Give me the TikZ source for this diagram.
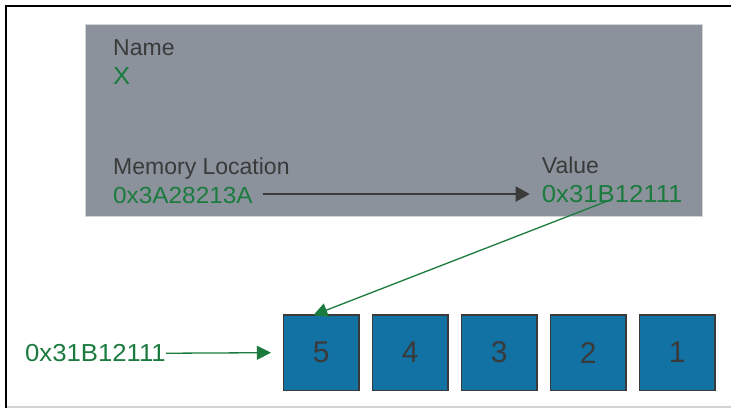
\documentclass[tikz,border=0pt]{standalone}
\usepackage{fontspec}
\setmainfont{Liberation Sans}
\newfontfamily\codefont[FakeStretch=1.045]{Liberation Sans}
\usetikzlibrary{arrows.meta}
\definecolor{panelgray}{HTML}{8B929C}
\definecolor{codegreen}{HTML}{1B7B3E}
\definecolor{cellblue}{HTML}{1172A3}
\definecolor{darktext}{HTML}{3A3A3A}
\definecolor{framegray}{HTML}{D4D4D4}
\tikzset{
  lbl/.style={inner sep=0pt, anchor=base west, font=\fontsize{23}{26}\selectfont, text=darktext},
  code/.style={lbl, text=codegreen, font=\codefont\fontsize{24.6}{28}\selectfont},
  cell/.style={draw=darktext, line width=1.3pt, fill=cellblue, minimum width=75.5pt, minimum height=75.5pt, inner sep=0pt, text=darktext, font=\fontsize{30}{34}\selectfont},
  garrow/.style={draw=codegreen, line width=1.3pt, -{Triangle[length=14pt,width=14pt]}},
  darrow/.style={draw=darktext, line width=2pt, -{Triangle[length=14pt,width=15pt]}}
}
\begin{document}
\begin{tikzpicture}[x=1pt,y=-1pt]
\useasboundingbox (0,0) rectangle (731,408);
\fill[white] (0,0) rectangle (731,408);
% frame
\draw[framegray, line width=1.5pt] (6,407) -- (731,407);
\draw[black, line width=2.5pt] (6,408) -- (6,6) -- (731,6);
% panel
\draw[fill=panelgray, draw=framegray, line width=0.6pt] (85,24) rectangle (702.5,216);
\node[lbl] (name) at (113,55.7) {Name};
\node[code] (x) at (113,84.3) {X};
\node[lbl] (memloc) at (113,174) {Memory Location};
\node[code, font=\codefont\fontsize{23.3}{27}\selectfont] (addr) at (113,203) {0x3A28213A};
\node[lbl] (valtitle) at (541.7,173.3) {Value};
\node[code] (val) at (541.7,202.5) {0x31B12111};
\draw[darrow, shorten <=10pt, shorten >=12pt] (val.west -| addr.east) -- (val.west);
% cells
\node[cell] (c5) at (321.3,352.6) {5};
\node[cell] (c4) at (410.3,352.6) {4};
\node[cell] (c3) at (499.3,352.6) {3};
\node[cell] (c2) at (588.3,352.6) {2};
\node[cell] (c1) at (677.3,352.6) {1};
\node[code] (ptr) at (25,361.7) {0x31B12111};
\draw[garrow, shorten >=12pt] (ptr.east) -- (c5.west);
\coordinate (vstart) at ([xshift=-2pt,yshift=3pt]val.south);
\coordinate (vend) at ([xshift=-8pt,yshift=-1pt]c5.north);
\draw[garrow] (vstart) -- (vend);
\end{tikzpicture}
\end{document}
